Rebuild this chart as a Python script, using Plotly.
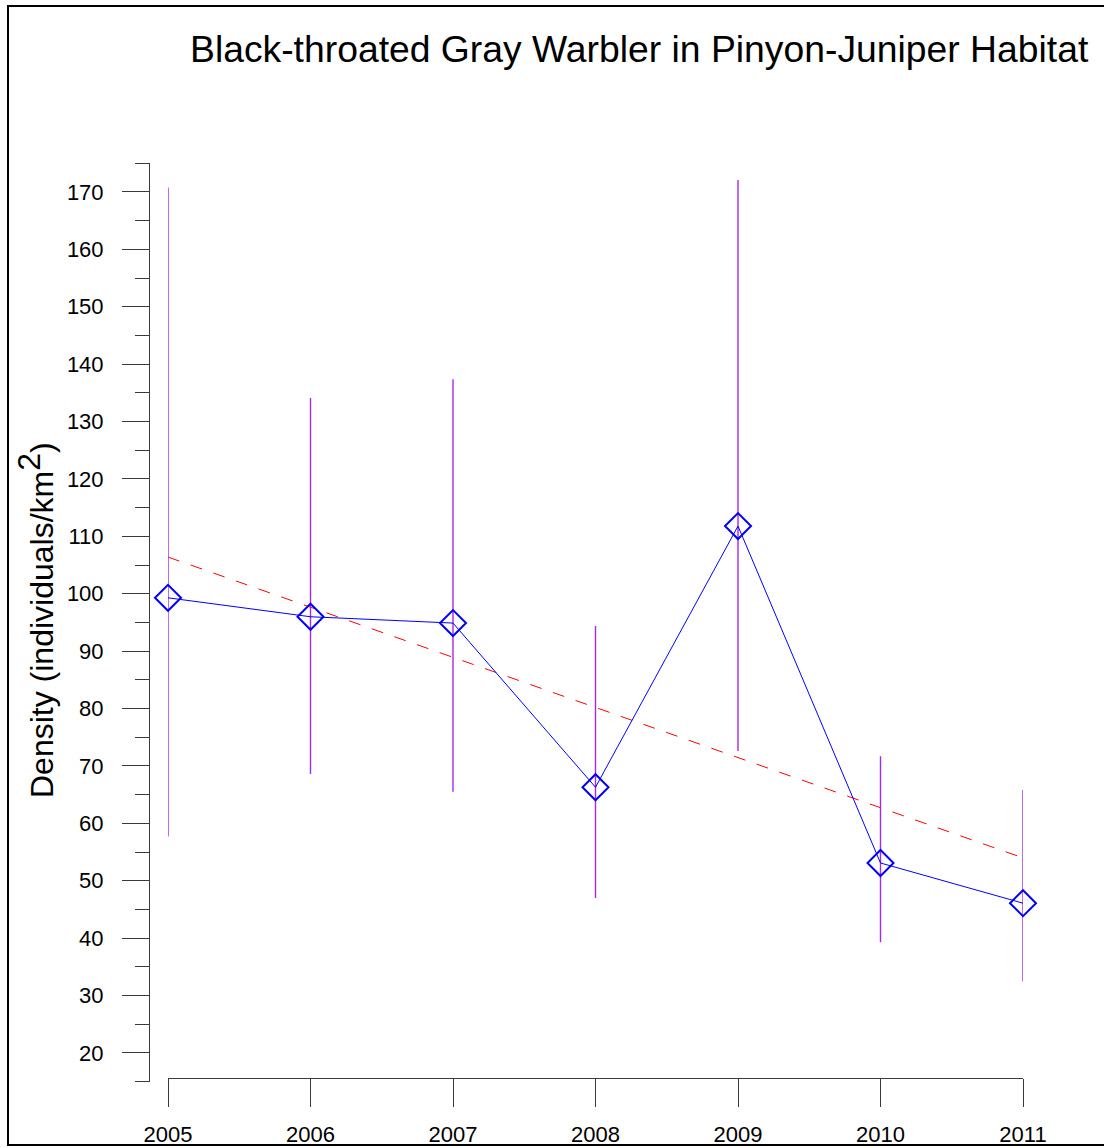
import plotly.graph_objects as go

W, H = 1104, 1148

years = [2005, 2006, 2007, 2008, 2009, 2010, 2011]
density = [99.3, 96.0, 94.9, 66.3, 111.8, 53.1, 46.1]
ci_upper = [170.8, 134.1, 137.4, 94.4, 172.1, 71.7, 65.8]
ci_lower = [57.7, 68.6, 65.5, 47.0, 72.6, 39.3, 32.5]
trend_years = [2005, 2011]
trend_values = [106.4, 54.0]
title_text = "Black-throated Gray Warbler in Pinyon-Juniper Habitat"
ylabel_text = 'Density (individuals/km<sup><span style="font-size:32px">2</span></sup>)'

err_plus = [u - v for u, v in zip(ci_upper, density)]
err_minus = [v - l for v, l in zip(density, ci_lower)]

FONT = "Liberation Sans, Arial, sans-serif"
AX = "#3a3a3a"

# pixel geometry
x_left, x_right = 168, 1023
y_lo_val, y_hi_val = 14.9, 175.1
px_per_unit = 5.74
y20 = 1053.0
y_lo_px = y20 + (20 - y_lo_val) * px_per_unit
y_hi_px = y20 - (y_hi_val - 20) * px_per_unit

fig = go.Figure()

fig.add_trace(go.Scatter(
    x=trend_years, y=trend_values, mode="lines",
    line=dict(color="#ff0000", width=1, dash="12px,12px"),
    hoverinfo="skip", showlegend=False, cliponaxis=False,
))

fig.add_trace(go.Scatter(
    x=years, y=density, mode="lines+markers",
    line=dict(color="#0000ff", width=1),
    marker=dict(symbol="diamond-open", size=20, color="#0000ff",
                line=dict(color="#0000ff", width=2)),
    error_y=dict(type="data", symmetric=False, array=err_plus,
                 arrayminus=err_minus, color="#a428f0", thickness=1.4, width=0),
    showlegend=False, cliponaxis=False,
))

fig.update_layout(
    width=W, height=H, autosize=False,
    margin=dict(l=0, r=0, t=0, b=0, pad=0, autoexpand=False),
    paper_bgcolor="white", plot_bgcolor="white",
    font=dict(family=FONT, color="black", size=22),
    showlegend=False,
    xaxis=dict(
        domain=[x_left / W, x_right / W],
        range=[2005, 2011],
        anchor="free", position=1 - 1078 / H,
        automargin=False,
        tickmode="array", tickvals=years, ticktext=[str(y) for y in years],
        ticks="outside", ticklen=28, tickwidth=1, tickcolor=AX,
        showline=True, linecolor=AX, linewidth=1,
        showgrid=False, zeroline=False,
        ticklabelstandoff=9,
        tickfont=dict(size=22, family=FONT, color="black"),
    ),
    yaxis=dict(
        domain=[1 - y_lo_px / H, 1 - y_hi_px / H],
        range=[y_lo_val, y_hi_val],
        anchor="free", position=149 / W,
        automargin=False,
        tick0=0, dtick=10,
        ticks="outside", ticklen=27, tickwidth=1, tickcolor=AX,
        minor=dict(tick0=0, dtick=5, ticks="outside", ticklen=14,
                   tickwidth=1, tickcolor=AX, showgrid=False),
        showline=True, linecolor=AX, linewidth=1,
        showgrid=False, zeroline=False,
        ticklabelstandoff=14,
        tickfont=dict(size=22, family=FONT, color="black"),
    ),
    shapes=[dict(type="rect", xref="paper", yref="paper",
                 x0=8 / W, x1=1112 / W, y0=1 - 1145 / H, y1=1 - 6 / H,
                 line=dict(color="black", width=2), fillcolor="rgba(0,0,0,0)")],
    annotations=[
        dict(text=title_text, xref="paper", yref="paper",
             x=639 / W, y=1 - 49 / H, xanchor="center", yanchor="middle",
             showarrow=False, font=dict(size=37.3, family=FONT, color="black")),
        dict(text=ylabel_text, xref="paper", yref="paper",
             x=35 / W, y=1 - 620 / H, xanchor="center", yanchor="middle",
             textangle=-90, showarrow=False,
             font=dict(size=32, family=FONT, color="black")),
    ],
)

fig.write_html("out.html", config={"displayModeBar": False},
               post_script="document.body.style.margin='0px';")
